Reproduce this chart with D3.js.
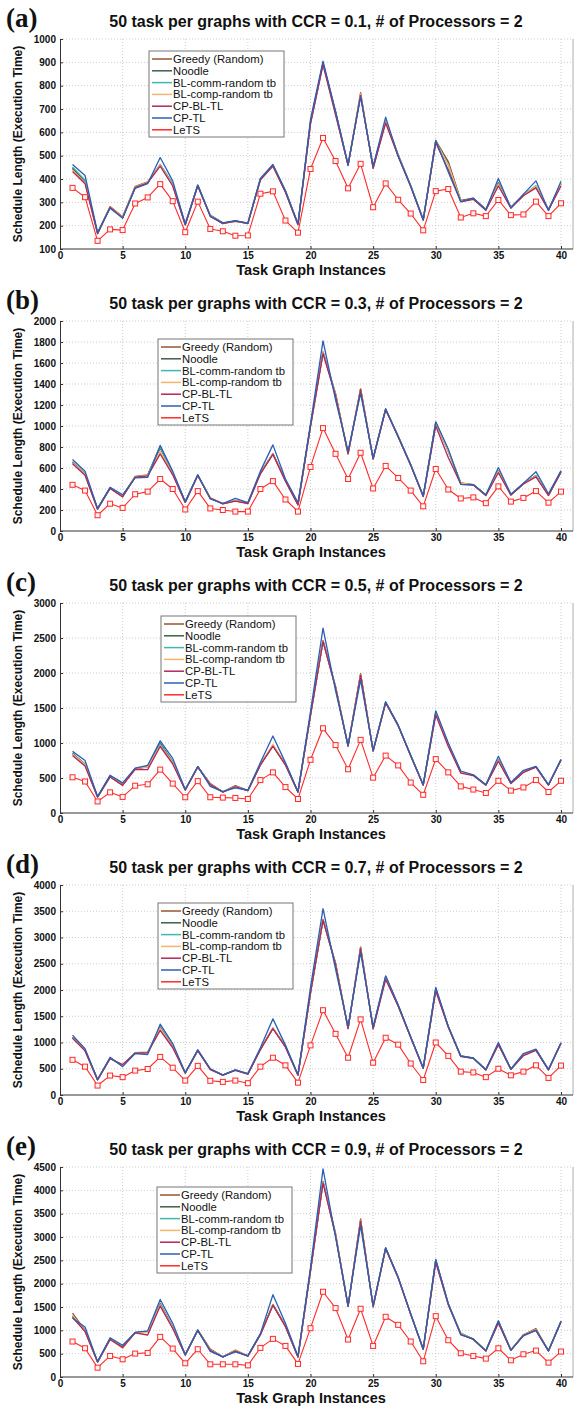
<!DOCTYPE html>
<html>
<head>
<meta charset="utf-8">
<script src="https://cdn.jsdelivr.net/npm/d3@7"></script>
<style>
  body { margin: 0; background: #fff; }
  svg { display: block; font-family: "Liberation Sans", Arial, sans-serif; }
</style>
</head>
<body>
<svg id="chart" width="574" height="1406"></svg>
<script>
// series names & colours (legend order)
const seriesNames = ["Greedy (Random)", "Noodle", "BL-comm-random tb", "BL-comp-random tb", "CP-BL-TL", "CP-TL", "LeTS"];
const seriesColors = ["#97552f", "#3f5e48", "#3fb8b2", "#f7b56a", "#b3265b", "#2b5fb4", "#ff2b2b"];

const instances = d3.range(1, 41);
const xTicks = [0, 5, 10, 15, 20, 25, 30, 35, 40];

// panel headers
const panelLabels = ["(a)", "(b)", "(c)", "(d)", "(e)"];
const ccrValues = ["0.1", "0.3", "0.5", "0.7", "0.9"];

// y axes
const yTicks_a = [100, 200, 300, 400, 500, 600, 700, 800, 900, 1000];
const yTicks_b = [0, 200, 400, 600, 800, 1000, 1200, 1400, 1600, 1800, 2000];
const yTicks_c = [0, 500, 1000, 1500, 2000, 2500, 3000];
const yTicks_d = [0, 500, 1000, 1500, 2000, 2500, 3000, 3500, 4000];
const yTicks_e = [0, 500, 1000, 1500, 2000, 2500, 3000, 3500, 4000, 4500];

// (a) CCR = 0.1
const greedy_a = [448,390,168,282,238,368,388,462,378,205,374,245,212,218,212,400,460,350,207,645,898,690,458,770,445,650,505,372,225,565,475,308,318,270,385,280,332,365,270,378];
const noodle_a = [445,388,166,280,236,366,386,458,376,204,372,243,210,220,210,398,457,346,205,640,895,685,460,762,450,648,500,370,224,562,468,306,316,268,378,278,330,368,268,380];
const blcomm_a = [452,395,170,278,234,364,384,462,380,206,373,241,211,221,211,399,459,344,206,642,897,682,461,758,452,650,499,371,226,561,460,304,315,267,380,277,331,372,267,382];
const blcomp_a = [438,384,167,281,237,366,387,459,374,205,371,243,209,219,209,397,457,345,204,638,893,680,459,765,448,646,501,369,225,559,462,305,314,268,376,278,329,369,268,379];
const cpbltl_a = [432,380,166,279,233,363,383,455,370,204,370,240,209,219,209,396,455,343,204,636,890,675,458,758,447,640,497,368,224,555,440,302,313,266,370,276,328,362,266,370];
const cptl_a = [462,415,170,275,233,360,380,492,392,207,374,240,212,222,210,402,462,350,208,655,905,690,462,752,455,665,498,370,225,565,430,303,318,268,402,275,335,392,265,390];
const lets_a = [362,322,135,184,181,295,321,378,305,172,303,186,176,157,158,337,347,222,170,443,576,477,360,465,279,381,311,252,180,348,357,235,253,241,310,245,248,303,241,296];

// (b) CCR = 0.3
const greedy_b = [660,545,212,412,335,520,535,810,550,276,532,315,262,288,266,555,738,485,252,1005,1705,1310,735,1355,688,1158,905,632,330,1035,770,458,442,342,575,346,452,528,342,565];
const noodle_b = [652,538,210,408,330,515,530,790,545,274,530,312,260,290,265,548,735,480,250,1000,1700,1300,740,1348,690,1160,900,630,330,1030,760,455,440,340,568,345,450,525,340,565];
const blcomm_b = [655,542,211,410,332,514,528,800,548,275,531,311,261,291,264,552,736,482,251,1002,1702,1298,742,1350,692,1162,901,631,331,1032,758,454,441,341,572,344,451,526,341,566];
const blcomp_b = [648,540,209,411,329,516,532,760,543,275,529,313,259,289,265,549,734,479,249,998,1698,1302,739,1352,689,1159,899,629,329,1028,762,456,439,340,569,345,449,524,340,564];
const cpbltl_b = [640,530,208,405,325,512,525,735,535,272,528,310,258,285,262,545,730,475,248,995,1690,1290,735,1345,685,1155,895,625,328,1000,700,445,438,338,555,342,448,515,338,560];
const cptl_b = [680,570,215,415,345,505,510,815,570,280,535,305,262,310,270,570,820,495,270,1020,1810,1250,760,1310,695,1165,900,630,335,1040,780,445,440,345,605,350,455,565,355,575];
const lets_b = [440,385,150,260,220,350,375,495,400,205,380,215,200,185,185,400,475,300,185,610,980,735,495,745,405,620,505,385,235,590,395,310,320,265,425,280,315,380,270,375];

// (c) CCR = 0.5
const greedy_c = [850,700,232,525,405,635,665,1000,730,332,662,420,302,390,322,695,965,700,302,1405,2465,1810,955,1990,885,1575,1255,822,400,1435,990,585,542,402,755,428,588,662,402,760];
const noodle_c = [845,692,230,520,402,632,662,990,722,330,660,412,300,382,320,690,962,692,300,1400,2460,1800,960,1982,890,1580,1250,820,400,1432,982,582,540,400,752,425,585,660,400,760];
const blcomm_c = [842,695,231,522,401,631,661,985,725,331,661,408,301,379,321,692,961,691,301,1402,2462,1798,962,1978,892,1582,1251,821,401,1431,978,581,541,401,751,426,586,661,401,761];
const blcomp_c = [838,688,229,519,399,629,659,960,718,329,659,409,299,378,319,689,980,689,299,1398,2458,1802,959,1979,889,1579,1249,819,399,1429,979,579,539,399,749,424,584,659,399,759];
const cpbltl_c = [820,670,228,515,395,625,620,950,700,328,655,405,298,375,318,685,955,685,298,1390,2450,1790,955,1970,885,1575,1245,815,398,1400,950,570,535,398,740,420,580,655,398,755];
const cptl_c = [880,750,235,540,430,640,680,1030,780,335,665,380,305,360,325,720,1100,720,305,1450,2640,1750,965,1900,895,1590,1255,825,405,1460,1000,600,545,405,810,435,610,665,405,765];
const lets_c = [510,450,165,295,230,390,410,620,420,225,455,225,220,215,200,470,580,370,200,760,1210,970,625,1045,505,820,680,435,260,770,580,380,335,285,460,320,365,470,300,460];

// (d) CCR = 0.7
const greedy_d = [1100,855,292,705,565,805,815,1300,930,422,855,495,382,478,402,875,1275,930,382,1955,3345,2510,1265,2820,1265,2255,1705,1102,510,2025,1305,745,702,482,975,492,762,865,482,990];
const noodle_d = [1092,850,290,700,562,800,810,1285,922,420,850,490,380,475,400,870,1270,922,380,1950,3340,2500,1270,2805,1270,2250,1700,1100,510,2020,1300,740,700,480,970,490,760,860,480,990];
const blcomm_d = [1095,852,291,702,558,801,811,1280,925,421,851,491,381,476,401,872,1271,921,381,1952,3342,2498,1272,2798,1272,2252,1701,1101,511,2022,1298,730,701,481,971,491,761,861,481,991];
const blcomp_d = [1088,848,289,699,561,799,809,1270,918,419,849,489,379,474,399,869,1280,919,379,1948,3338,2502,1269,2802,1269,2249,1699,1099,509,2018,1302,741,699,479,969,489,759,859,479,989];
const cpbltl_d = [1080,840,288,690,580,795,805,1230,900,418,845,485,378,470,398,865,1265,910,378,1940,3330,2490,1265,2790,1260,2200,1690,1095,508,1980,1290,735,698,478,960,488,750,850,478,985];
const cptl_d = [1140,880,295,720,540,790,770,1350,980,425,860,500,380,480,405,900,1450,950,385,2050,3550,2400,1300,2720,1300,2270,1720,1110,515,2050,1310,745,705,485,1000,495,790,875,485,995];
const lets_d = [670,540,180,370,340,465,495,725,520,275,555,270,250,275,225,540,710,565,235,945,1615,1165,710,1440,615,1090,960,600,285,1000,745,445,430,340,500,375,445,565,325,560];

// (e) CCR = 0.9
const greedy_e = [1370,1000,325,815,620,955,965,1580,1070,478,1010,600,432,575,452,915,1555,1100,432,2285,4190,3080,1515,3390,1505,2765,2135,1352,595,2510,1570,935,812,562,1195,577,905,1040,562,1190];
const noodle_e = [1310,985,322,810,640,950,960,1550,1055,475,1000,580,430,560,450,910,1550,1090,430,2280,4180,3050,1520,3350,1510,2760,2130,1350,595,2500,1560,920,810,560,1190,575,900,1010,560,1190];
const blcomm_e = [1290,1000,323,812,645,952,962,1560,1065,476,1002,575,431,558,451,912,1552,1095,431,2282,4185,3055,1522,3345,1512,2762,2132,1352,596,2505,1565,940,811,561,1192,576,902,1005,561,1191];
const blcomp_e = [1320,980,321,800,625,948,958,1540,1050,474,998,585,429,565,449,908,1548,1085,429,2278,4175,3045,1518,3355,1508,2758,2128,1348,594,2495,1555,925,809,559,1188,574,898,1015,559,1189];
const cpbltl_e = [1280,975,320,805,635,945,900,1520,1040,472,995,570,428,555,448,905,1540,1080,428,2270,4160,3030,1515,3340,1505,2750,2120,1345,592,2450,1550,915,805,558,1150,572,895,1000,558,1185];
const cptl_e = [1260,1070,330,840,680,955,990,1662,1150,480,1005,550,430,540,455,930,1763,1150,440,2350,4460,3000,1530,3250,1530,2770,2140,1350,600,2520,1570,900,815,565,1205,575,880,1000,560,1195];
const lets_e = [760,616,200,451,380,502,516,860,609,294,595,272,272,272,250,623,817,666,280,1046,1827,1476,803,1462,666,1290,1118,760,337,1304,788,509,451,394,616,358,487,566,308,545];

const panels = [
  {label: panelLabels[0], ccr: ccrValues[0], yTicks: yTicks_a, series: [greedy_a, noodle_a, blcomm_a, blcomp_a, cpbltl_a, cptl_a, lets_a]},
  {label: panelLabels[1], ccr: ccrValues[1], yTicks: yTicks_b, series: [greedy_b, noodle_b, blcomm_b, blcomp_b, cpbltl_b, cptl_b, lets_b]},
  {label: panelLabels[2], ccr: ccrValues[2], yTicks: yTicks_c, series: [greedy_c, noodle_c, blcomm_c, blcomp_c, cpbltl_c, cptl_c, lets_c]},
  {label: panelLabels[3], ccr: ccrValues[3], yTicks: yTicks_d, series: [greedy_d, noodle_d, blcomm_d, blcomp_d, cpbltl_d, cptl_d, lets_d]},
  {label: panelLabels[4], ccr: ccrValues[4], yTicks: yTicks_e, series: [greedy_e, noodle_e, blcomm_e, blcomp_e, cpbltl_e, cptl_e, lets_e]}
];

// layout (per panel legend placement)
const legendLeft = [149, 158, 161, 158, 157];
const legendDrop = [12, 18, 13, 18, 20];

const svg = d3.select("#chart");
svg.append("rect").attr("width", 574).attr("height", 1406).attr("fill", "#fff");

const plotLeft = 60, plotRight = 573, plotH = 210;
const x = d3.scaleLinear().domain([0, 40]).range([plotLeft, 561]);

panels.forEach((p, k) => {
  const top = 39 + k * 282;
  const bottom = top + plotH;
  const y = d3.scaleLinear().domain(d3.extent(p.yTicks)).range([bottom, top]);
  const g = svg.append("g");

  // grid
  g.append("g").selectAll("line.gx").data(xTicks.slice(1)).join("line")
    .attr("x1", d => x(d)).attr("x2", d => x(d)).attr("y1", top).attr("y2", bottom)
    .attr("stroke", "#b8b8b8").attr("stroke-width", 0.7).attr("stroke-dasharray", "1,2");
  g.append("g").selectAll("line.gy").data(p.yTicks.slice(1)).join("line")
    .attr("x1", plotLeft).attr("x2", plotRight).attr("y1", d => y(d)).attr("y2", d => y(d))
    .attr("stroke", "#b8b8b8").attr("stroke-width", 0.7).attr("stroke-dasharray", "1,2");

  // right edge of the box (cropped)
  g.append("line").attr("x1", plotRight).attr("x2", plotRight).attr("y1", top).attr("y2", bottom)
    .attr("stroke", "#999").attr("stroke-width", 0.8);

  // axes
  const xAxis = g.append("g").attr("transform", `translate(0,${bottom})`)
    .call(d3.axisBottom(x).tickValues(xTicks).tickSize(-3).tickPadding(4).tickFormat(d3.format("d")));
  xAxis.select(".domain").attr("d", `M${plotLeft},0H${plotRight}`);
  const yAxis = g.append("g").attr("transform", `translate(${plotLeft},0)`)
    .call(d3.axisLeft(y).tickValues(p.yTicks).tickSize(-3).tickPadding(4).tickFormat(d3.format("d")));
  [xAxis, yAxis].forEach(a => {
    a.select(".domain").attr("stroke", "#333").attr("stroke-width", 1);
    a.selectAll(".tick line").attr("stroke", "#333");
    a.selectAll("text").attr("font-size", 10).attr("font-weight", "bold")
      .attr("font-family", "'Liberation Sans', Arial, sans-serif").attr("fill", "#111");
  });
  xAxis.selectAll("text").attr("dy", "0.6em");

  // series lines
  const line = d3.line().x((d, i) => x(instances[i])).y(d => y(d));
  p.series.forEach((vals, s) => {
    g.append("path").datum(vals)
      .attr("fill", "none").attr("stroke", seriesColors[s])
      .attr("stroke-width", s === 6 ? 1.1 : 1.3).attr("stroke-linejoin", "round")
      .attr("d", line);
  });
  g.append("g").selectAll("rect").data(p.series[6]).join("rect")
    .attr("x", (d, i) => x(instances[i]) - 2.5).attr("y", d => y(d) - 2.5)
    .attr("width", 5).attr("height", 5)
    .attr("fill", "#fff4f4").attr("stroke", seriesColors[6]).attr("stroke-width", 1);

  // titles
  svg.append("text").attr("x", 6).attr("y", top - 12)
    .attr("font-family", "'Liberation Serif', 'Times New Roman', serif")
    .attr("font-size", 27).attr("font-weight", "bold").attr("fill", "#111").text(p.label);
  svg.append("text").attr("x", 316).attr("y", top - 12).attr("text-anchor", "middle")
    .attr("font-size", 16).attr("font-weight", "bold").attr("fill", "#111")
    .text(`50 task per graphs with CCR = ${p.ccr}, # of Processors = 2`);
  svg.append("text").attr("x", 311).attr("y", bottom + 26).attr("text-anchor", "middle")
    .attr("font-size", 14.5).attr("font-weight", "bold").attr("fill", "#111")
    .text("Task Graph Instances");
  svg.append("text")
    .attr("transform", `translate(22,${(top + bottom) / 2}) rotate(-90)`)
    .attr("text-anchor", "middle").attr("font-size", 12).attr("font-weight", "bold").attr("fill", "#111")
    .text("Schedule Length (Execution Time)");

  // legend
  const lx = legendLeft[k], ly = top + legendDrop[k];
  const leg = svg.append("g").attr("transform", `translate(${lx},${ly})`);
  leg.append("rect").attr("width", 135).attr("height", 86)
    .attr("fill", "#fff").attr("stroke", "#777").attr("stroke-width", 1);
  seriesNames.forEach((name, s) => {
    const ry = 8 + s * 11.8;
    leg.append("line").attr("x1", 3).attr("x2", 23).attr("y1", ry).attr("y2", ry)
      .attr("stroke", seriesColors[s]).attr("stroke-width", 1.5);
    leg.append("text").attr("x", 24).attr("y", ry + 4).attr("font-size", 11.3)
      .attr("fill", "#111").text(name);
  });
});
</script>
</body>
</html>
